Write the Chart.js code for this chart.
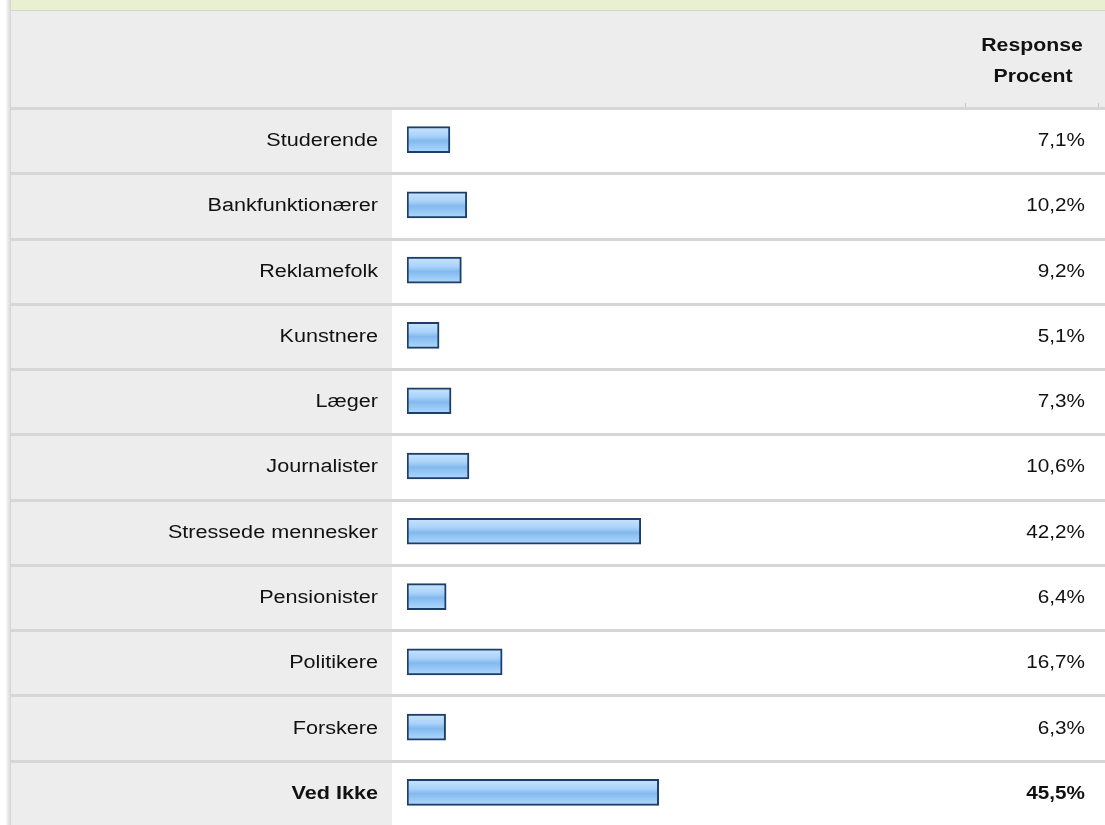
<!DOCTYPE html>
<html>
<head>
<meta charset="utf-8">
<script src="https://cdn.jsdelivr.net/npm/chart.js@4/dist/chart.umd.min.js"></script>
<style>
  body { margin: 0; background: #fff; }
  #chart { display: block; }
</style>
</head>
<body>
<canvas id="chart" width="1105" height="825"></canvas>
<script>
// svarmuligheder og procenter
const categories = ['Studerende', 'Bankfunktionærer', 'Reklamefolk', 'Kunstnere', 'Læger',
  'Journalister', 'Stressede mennesker', 'Pensionister', 'Politikere', 'Forskere', 'Ved Ikke'];
const procent = [7.1, 10.2, 9.2, 5.1, 7.3, 10.6, 42.2, 6.4, 16.7, 6.3, 45.5];
const headerLines = ['Response', 'Procent'];
const boldRow = 10; // "Ved Ikke" står med fed

const FONT = '"Liberation Sans", Arial, Helvetica, sans-serif';

// teksten i billedet er strakt lidt på tværs, derfor scale(sx,1)
function stretchedText(ctx, txt, x, y, align, weight, sx) {
  ctx.save();
  ctx.font = weight + ' 18px ' + FONT;
  ctx.fillStyle = '#111';
  ctx.textAlign = align;
  ctx.textBaseline = 'middle';
  ctx.scale(sx, 1);
  ctx.fillText(txt, x / sx, y);
  ctx.restore();
}

const tabel = {
  id: 'tabel',
  beforeDraw(chart) {
    const c = chart.ctx, y = chart.scales.y;
    const W = chart.width, H = chart.height;
    const top = chart.chartArea.top;
    c.save();
    c.fillStyle = '#fff';
    c.fillRect(0, 0, W, H);
    // skygge i venstre kant
    const sh = c.createLinearGradient(6, 0, 11, 0);
    sh.addColorStop(0, '#fafafa');
    sh.addColorStop(1, '#d2d2d2');
    c.fillStyle = sh;
    c.fillRect(6, 0, 5, H);
    // grøn bjælke øverst
    c.fillStyle = '#e9f0d2';
    c.fillRect(11, 0, W - 11, 10);
    c.fillStyle = '#d4d4d4';
    c.fillRect(11, 10, W - 11, 1);
    // header
    c.fillStyle = '#ededed';
    c.fillRect(11, 11, W - 11, top - 11);
    // kolonne med svarmuligheder (til x=392)
    c.fillRect(11, top, chart.chartArea.left - 15 - 11, H - top);
    // skillelinjer
    c.fillStyle = '#d6d6d6';
    for (let i = 0; i < categories.length; i++) {
      const yy = Math.round(y.getPixelForValue(i - 0.5));
      c.fillRect(11, yy, W - 11, 3);
    }
    c.fillStyle = '#c4c4c4';
    c.fillRect(965, top - 4, 1, 4);
    c.fillRect(1098, top - 4, 1, 4);
    c.restore();
  },
  beforeDatasetsDraw(chart) {
    // gradient pr. søjle, lagt på når søjlernes position kendes
    chart.getDatasetMeta(0).data.forEach(bar => {
      const g = chart.ctx.createLinearGradient(0, bar.y - 12, 0, bar.y + 12);
      g.addColorStop(0, '#c6e2fd');
      g.addColorStop(0.35, '#a9d2fa');
      g.addColorStop(0.55, '#84b9ee');
      g.addColorStop(0.75, '#95c7f5');
      g.addColorStop(1, '#acd6fc');
      bar.options = Object.assign({}, bar.options, { backgroundColor: g });
    });
  },
  afterDraw(chart) {
    const c = chart.ctx, y = chart.scales.y;
    stretchedText(c, headerLines[0], 1032, 46, 'center', 'bold', 1.18);
    stretchedText(c, headerLines[1], 1033, 77, 'center', 'bold', 1.18);
    categories.forEach((lab, i) => {
      const yy = y.getPixelForValue(i) + 1.5;
      const w = i === boldRow ? 'bold' : 'normal';
      stretchedText(c, lab, 378, yy, 'right', w, 1.2);
      stretchedText(c, procent[i].toFixed(1).replace('.', ',') + '%', 1085, yy, 'right', w, 1.15);
    });
  }
};

const ctx = document.querySelector('#chart');
const chart = new Chart(ctx, {
  type: 'bar',
  data: {
    labels: categories,
    datasets: [{
      data: procent,
      base: -0.8,
      barThickness: 26,
      borderWidth: 2,
      borderSkipped: false,
      borderColor: '#1d3e68',
      backgroundColor: '#9ccaf5'
    }]
  },
  options: {
    indexAxis: 'y',
    responsive: false,
    animation: false,
    devicePixelRatio: 1,
    layout: { padding: { top: 107, right: 150, left: 0, bottom: 0 } },
    plugins: { legend: { display: false }, tooltip: { enabled: false } },
    scales: {
      x: { type: 'linear', min: -0.8, max: 100, display: false },
      y: {
        type: 'category',
        grid: { display: false, drawTicks: false },
        border: { display: false },
        ticks: { display: false },
        afterFit(s) { s.width = 407; }
      }
    }
  },
  plugins: [tabel]
});
</script>
</body>
</html>
